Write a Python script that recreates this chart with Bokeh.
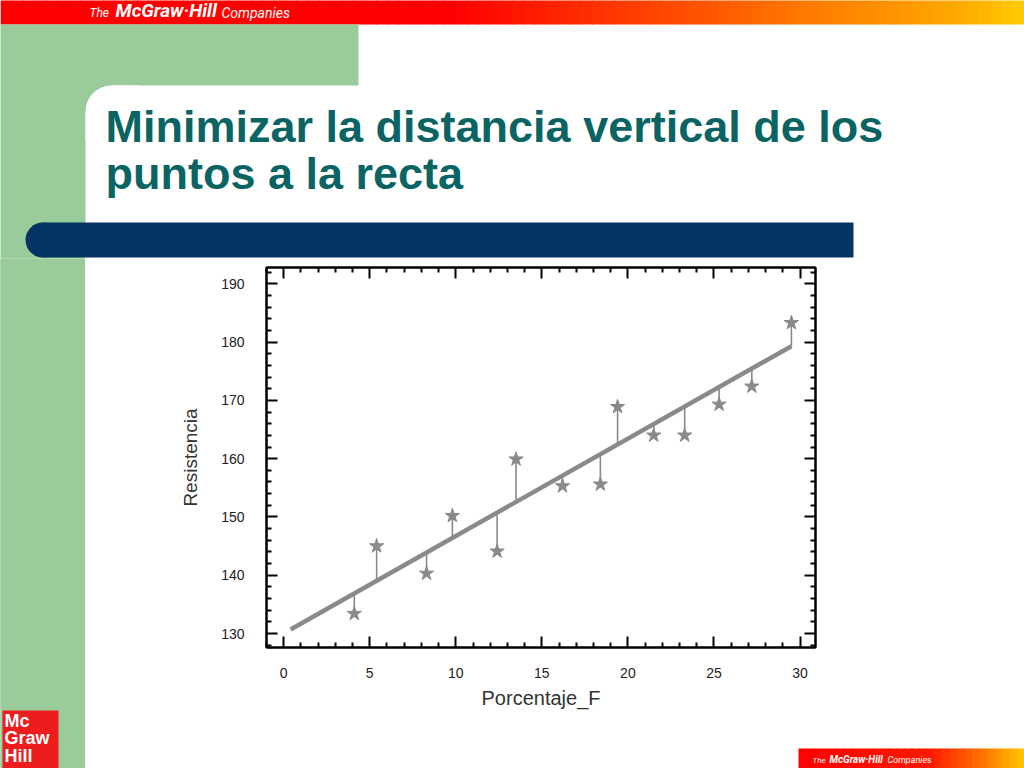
from bokeh.plotting import figure
from bokeh.models import LinearAxis, FixedTicker, Range1d, CustomJSTickFormatter
from bokeh.layouts import column, row
from bokeh.core.properties import value
from bokeh.embed import file_html
from bokeh.resources import INLINE

# ---------------- data ----------------
porcentaje_f = [4.1, 5.4, 8.3, 9.8, 12.4, 13.5, 16.2, 18.4, 19.4, 21.5, 23.3, 25.3, 27.2, 29.5]
resistencia = [133.4, 145.0, 140.3, 150.2, 144.1, 159.9, 155.3, 155.6, 168.9, 164.0, 164.0, 169.3, 172.4, 183.3]
recta_en_puntos = [136.8, 139.0, 143.9, 146.4, 150.7, 152.5, 157.1, 160.7, 162.4, 165.9, 168.9, 172.3, 175.4, 179.3]
recta_x = [0.4, 29.5]
recta_y = [130.7, 179.3]
x_ticks = [0, 5, 10, 15, 20, 25, 30]
x_minor_ticks = [-1, 1, 2, 3, 4, 6, 7, 8, 9, 11, 12, 13, 14, 16, 17, 18, 19, 21, 22, 23, 24, 26, 27, 28, 29]
y_ticks = [130, 140, 150, 160, 170, 180, 190]
y_minor_ticks = [128, 132, 134, 136, 138, 142, 144, 146, 148, 152, 154, 156, 158, 162, 164, 166, 168,
                 172, 174, 176, 178, 182, 184, 186, 188, 192]
title_lines = ["Minimizar la distancia vertical de los", "puntos a la recta"]
x_label = "Porcentaje_F"
y_label = "Resistencia"
brand = ["The", "McGraw\u00b7Hill", "Companies"]
logo_lines = ["Mc", "Graw", "Hill"]

GREEN = "#9acb9a"
TEAL = "#0b6464"
NAVY = "#033464"
LOGO_RED = "#ee1c1c"

TOP_H = 258      # page y where the chart row starts
SPLIT_Y = 747    # page y where the footer strip starts (right of the green strip)
LEFT_W = 85      # width of the green strip


def deco_fig(w, h, bg="white"):
    """A decoration panel whose frame is the whole canvas; units are page pixels, y downward."""
    f = figure(width=w, height=h, x_range=Range1d(0, w), y_range=Range1d(h, 0),
               x_axis_type=None, y_axis_type=None, min_border=0,
               output_backend="svg", toolbar_location=None, tools="")
    f.outline_line_color = None
    f.grid.visible = False
    f.background_fill_color = bg
    f.border_fill_color = bg
    return f


def hex2rgb(h):
    h = h.lstrip("#")
    return tuple(int(h[i:i + 2], 16) for i in (0, 2, 4))


def gradient(f, x0, x1, y0, y1, stops, n):
    w = (x1 - x0) / n
    lefts, rights, cols = [], [], []
    for i in range(n):
        xm = x0 + (i + 0.5) * w
        col = stops[-1][1]
        for (a, ca), (b, cb) in zip(stops[:-1], stops[1:]):
            if a <= xm <= b:
                t = (xm - a) / (b - a)
                r1, g1, b1 = hex2rgb(ca)
                r2, g2, b2 = hex2rgb(cb)
                col = "#%02x%02x%02x" % (round(r1 + (r2 - r1) * t), round(g1 + (g2 - g1) * t),
                                         round(b1 + (b2 - b1) * t))
                break
        lefts.append(x0 + i * w)
        rights.append(x0 + (i + 1) * w + 0.8)
        cols.append(col)
    f.quad(left=lefts, right=rights, top=[y0] * n, bottom=[y1] * n, fill_color=cols,
           line_color=None)


def txt(f, x, baseline, s, size, color, style="normal", font="Liberation Sans"):
    # text is centred on the capital height, placed from the wanted baseline
    f.text(x=[x], y=[baseline - 0.38 * size], text=[s], text_font=value(font),
           text_font_size=value("%dpx" % size), text_font_style=value(style), text_color=color,
           text_align=value("left"), text_baseline=value("middle"))


# ---------------- top panel: header, title, blue bar (page y 0..258) ----------------
top = deco_fig(1024, TOP_H)
gradient(top, 0, 1024, -2, 24, [(0, "#ff0000"), (450, "#ff0000"), (600, "#ff3300"),
                                (720, "#ff5a00"), (800, "#ff7800"), (880, "#ff9000"),
                                (960, "#ffaa00"), (1024, "#ffcc00")], 90)
top.quad(left=[-2, LEFT_W - 1], right=[LEFT_W, 358], top=[24, 24], bottom=[TOP_H + 3, 85],
         fill_color=GREEN, line_color=None)
# rounded inner corner of the white content area
top.quad(left=[LEFT_W - 1], right=[111], top=[84], bottom=[111], fill_color=GREEN, line_color=None)
top.circle(x=[111], y=[111], radius=26, fill_color="white", line_color=None)
top.quad(left=[111, LEFT_W], right=[140, 111], top=[85, 111], bottom=[111, 140],
         fill_color="white", line_color=None)
# navy bar with rounded left end
top.quad(left=[42.5], right=[853], top=[222], bottom=[257], fill_color=NAVY, line_color=None)
top.circle(x=[42.5], y=[239.5], radius=17.5, fill_color=NAVY, line_color=None)
txt(top, 89, 17.5, brand[0], 12, "white", "italic", "Roboto")
txt(top, 115, 17.5, brand[1], 19, "white", "bold italic", "Roboto")
txt(top, 221, 17.5, brand[2], 14, "white", "italic", "Roboto")
txt(top, 105, 143, title_lines[0], 45, TEAL, "bold")
txt(top, 105, 190, title_lines[1], 45, TEAL, "bold")

# ---------------- left strip with the logo (page x 0..85, y 258..768) ----------------
LH = 768 - TOP_H
left = deco_fig(LEFT_W, LH, GREEN)
left.quad(left=[-2], right=[LEFT_W + 2], top=[-3], bottom=[LH + 3],
          fill_color=GREEN, line_color=None)
left.quad(left=[2], right=[58], top=[710 - TOP_H], bottom=[LH + 3],
          fill_color=LOGO_RED, line_color=None)
for i, t in enumerate(logo_lines):
    txt(left, 4, 727 - TOP_H + 17.5 * i, t, 18, "white", "bold")

# ---------------- chart (page x 85..1024, y 258..747) ----------------
XR = (-1.0, 30.9)
YR = (127.6, 192.8)
p = figure(width=1024 - LEFT_W, height=SPLIT_Y - TOP_H, x_range=Range1d(*XR),
           y_range=Range1d(*YR), output_backend="svg", toolbar_location=None, tools="",
           min_border_left=266 - LEFT_W, min_border_right=1024 - 815,
           min_border_top=267 - TOP_H, min_border_bottom=SPLIT_Y - 647)
p.grid.visible = False
p.background_fill_color = "white"
p.border_fill_color = "white"
p.outline_line_color = "black"
p.outline_line_width = 2

gray = "#8a8a8a"
p.segment(x0=porcentaje_f, y0=resistencia, x1=porcentaje_f, y1=recta_en_puntos,
          line_color=gray, line_width=1.6)
p.line(recta_x, recta_y, line_color=gray, line_width=4.5)
p.scatter(porcentaje_f, resistencia, marker="star", size=15, fill_color=gray, line_color=gray)


def style_axis(ax, show):
    ax.axis_line_color = "black"
    ax.axis_line_width = 2
    ax.major_tick_in = 11
    ax.major_tick_out = 0
    ax.minor_tick_in = 5
    ax.minor_tick_out = 0
    ax.major_tick_line_color = "black"
    ax.major_tick_line_width = 2
    ax.minor_tick_line_color = "black"
    ax.minor_tick_line_width = 2
    ax.major_label_text_font = "Liberation Sans"
    ax.major_label_text_font_size = "14px"
    ax.major_label_text_color = "#222222"
    ax.axis_label_text_font = "Liberation Sans"
    ax.axis_label_text_font_size = "20px"
    ax.axis_label_text_font_style = "normal"
    ax.axis_label_text_color = "#333333"
    if not show:
        ax.formatter = CustomJSTickFormatter(code="return ''")
        ax.major_label_text_font_size = "0px"
        ax.major_label_standoff = 0
        ax.axis_label_standoff = 0


xa = p.xaxis[0]
xa.ticker = FixedTicker(ticks=x_ticks, minor_ticks=x_minor_ticks)
style_axis(xa, True)
xa.axis_label = x_label
xa.major_label_standoff = 20
xa.axis_label_standoff = 6

ya = p.yaxis[0]
ya.ticker = FixedTicker(ticks=y_ticks, minor_ticks=y_minor_ticks)
style_axis(ya, True)
ya.axis_label = y_label
ya.axis_label_text_font_size = "19px"
ya.major_label_standoff = 22
ya.axis_label_standoff = 17

ax_top = LinearAxis(ticker=FixedTicker(ticks=x_ticks, minor_ticks=x_minor_ticks))
style_axis(ax_top, False)
p.add_layout(ax_top, "above")
ax_right = LinearAxis(ticker=FixedTicker(ticks=y_ticks, minor_ticks=y_minor_ticks))
style_axis(ax_right, False)
p.add_layout(ax_right, "right")

# ---------------- footer strip (page x 85..1024, y 747..768) ----------------
FH = 768 - SPLIT_Y
bot = deco_fig(1024 - LEFT_W, FH)
gradient(bot, 798 - LEFT_W, 1024 - LEFT_W, 748 - SPLIT_Y, FH + 2,
         [(798 - LEFT_W, "#ff0000"), (930 - LEFT_W, "#ff1a00"), (980 - LEFT_W, "#ff7000"),
          (1024 - LEFT_W, "#ffc800")], 30)
txt(bot, 812 - LEFT_W, 763 - SPLIT_Y, brand[0], 8, "white", "italic", "Roboto")
txt(bot, 829 - LEFT_W, 763 - SPLIT_Y, brand[1], 10, "white", "bold italic", "Roboto")
txt(bot, 887 - LEFT_W, 763 - SPLIT_Y, brand[2], 9, "white", "italic", "Roboto")

layout = column(top, row(left, column(p, row(bot, spacing=0), spacing=0), spacing=0), spacing=0)

open("out.html", "w").write(file_html(layout, INLINE))
